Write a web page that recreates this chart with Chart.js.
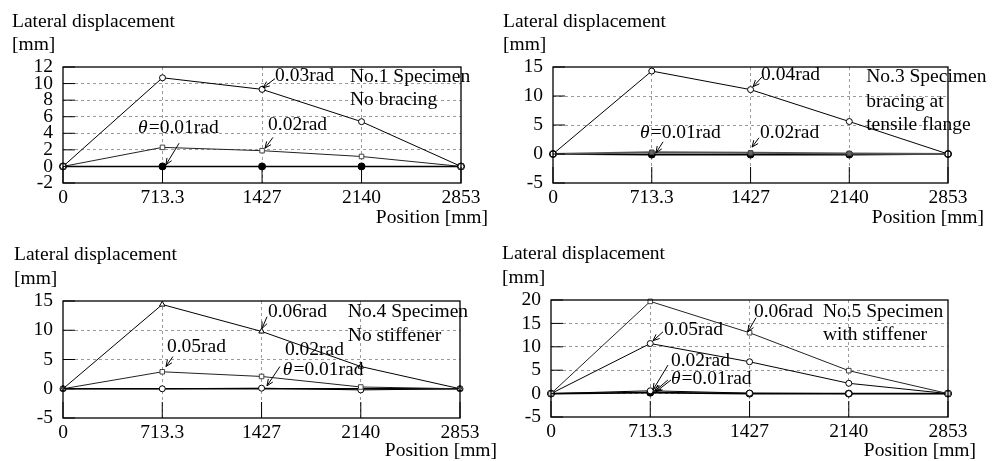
<!DOCTYPE html>
<html>
<head>
<meta charset="utf-8">
<title>Lateral displacement distribution</title>
<script src="https://cdn.jsdelivr.net/npm/chart.js@4.4.1/dist/chart.umd.min.js"></script>
<style>
  body { margin:0; background:#fff; width:992px; height:461px; overflow:hidden; position:relative;
         font-family:"Liberation Serif","Times New Roman",serif; }
  .panel { position:absolute; width:496px; height:230px; }
  .lbl { position:absolute; font-size:19.5px; line-height:1; color:#000; white-space:nowrap; }
</style>
</head>
<body>
<div class="panel" style="left:0;top:0"><canvas id="c1" width="496" height="230"></canvas></div>
<div class="panel" style="left:496px;top:0"><canvas id="c2" width="496" height="230"></canvas></div>
<div class="panel" style="left:0;top:230px"><canvas id="c3" width="496" height="230"></canvas></div>
<div class="panel" style="left:496px;top:230px"><canvas id="c4" width="496" height="230"></canvas></div>

<div class="lbl" style="left:12px;top:11px">Lateral displacement</div>
<div class="lbl" style="left:12px;top:34px">[mm]</div>
<div class="lbl" style="right:504px;top:207px">Position [mm]</div>

<div class="lbl" style="left:503px;top:11px">Lateral displacement</div>
<div class="lbl" style="left:503px;top:34px">[mm]</div>
<div class="lbl" style="right:8px;top:207px">Position [mm]</div>

<div class="lbl" style="left:14px;top:244px">Lateral displacement</div>
<div class="lbl" style="left:14px;top:268px">[mm]</div>
<div class="lbl" style="right:495px;top:440px">Position [mm]</div>

<div class="lbl" style="left:502px;top:243px">Lateral displacement</div>
<div class="lbl" style="left:502px;top:267px">[mm]</div>
<div class="lbl" style="right:16px;top:440px">Position [mm]</div>

<script>
// measuring positions along the beam [mm]
const positions = [0, 713.3, 1427, 2140, 2853];
const xTickLabels = ['0', '713.3', '1427', '2140', '2853'];

// No.1 specimen, no bracing
const no1_r001 = [0, 0, 0, 0, 0];
const no1_r002 = [0, 2.3, 1.9, 1.2, 0];
const no1_r003 = [0, 10.7, 9.3, 5.4, 0];
const no1_yTicks = [-2, 0, 2, 4, 6, 8, 10, 12];

// No.3 specimen, bracing at tensile flange
const no3_r001 = [0, -0.1, -0.1, -0.1, 0];
const no3_r002 = [0, 0.3, 0.2, 0.1, 0];
const no3_r004 = [0, 14.3, 11.1, 5.6, 0];
const no3_yTicks = [-5, 0, 5, 10, 15];

// No.4 specimen, no stiffener
const no4_r001 = [0, 0, 0, 0, 0];
const no4_r002 = [0, 0, 0.1, -0.2, 0];
const no4_r005 = [0, 2.9, 2.1, 0.3, 0];
const no4_r006 = [0, 14.4, 9.8, 3.8, 0];
const no4_yTicks = [-5, 0, 5, 10, 15];

// No.5 specimen, with stiffener
const no5_r001 = [0, 0.2, 0, 0, 0];
const no5_r002 = [0, 0.6, 0.1, 0, 0];
const no5_r005 = [0, 10.7, 6.8, 2.2, 0];
const no5_r006 = [0, 19.7, 13.0, 4.9, 0];
const no5_yTicks = [-5, 0, 5, 10, 15, 20];

const FONT = '"Liberation Serif", "Times New Roman", serif';
const FSIZE = 19.5;

function pts(vals){ return vals.map((v,i)=>({x: positions[i], y: v})); }

// marker presets
const openCircle = {pointStyle:'circle', pointRadius:3, pointBackgroundColor:'#fff', pointBorderColor:'#000', borderColor:'#000', borderWidth:1};
const fillCircle = {pointStyle:'circle', pointRadius:3.5, pointBackgroundColor:'#000', pointBorderColor:'#000', borderColor:'#000', borderWidth:1.6};
const openSquare = {pointStyle:'rect', pointRadius:3.2, pointBackgroundColor:'#fff', pointBorderColor:'#444', borderColor:'#222', borderWidth:1};
const greySquare = {pointStyle:'rect', pointRadius:3.2, pointBackgroundColor:'#666', pointBorderColor:'#444', borderColor:'#555', borderWidth:2};
const openTri = {pointStyle:'triangle', pointRadius:3.2, pointBackgroundColor:'#fff', pointBorderColor:'#000', borderColor:'#000', borderWidth:1};

function ds(label, vals, style){
  return Object.assign({label, data: pts(vals), clip:false, tension:0, fill:false, pointBorderWidth:1}, style);
}

// frame, inward ticks and annotations
const framePlugin = {
  id: 'frame',
  afterDraw(chart){
    const {ctx, chartArea:a, scales} = chart;
    const o = chart.options.plugins.frame;
    ctx.save();
    ctx.strokeStyle = '#000';
    ctx.lineWidth = 1.3;
    ctx.strokeRect(a.left, a.top, a.right - a.left, a.bottom - a.top);
    ctx.lineWidth = 1;
    ctx.beginPath();
    scales.x.ticks.forEach(t=>{
      const px = scales.x.getPixelForValue(t.value);
      ctx.moveTo(px, a.bottom); ctx.lineTo(px, a.bottom - 16);
    });
    scales.y.ticks.forEach(t=>{
      const py = scales.y.getPixelForValue(t.value);
      ctx.moveTo(a.left, py); ctx.lineTo(a.left + 12, py);
    });
    ctx.stroke();

    ctx.fillStyle = '#000';
    ctx.textBaseline = 'middle';
    (o.notes || []).forEach(n=>{
      let px = scales.x.getPixelForValue(n.x);
      const py = scales.y.getPixelForValue(n.y);
      if (n.theta){
        ctx.font = 'italic ' + FSIZE + 'px ' + FONT;
        ctx.fillText('\u03b8', px, py);
        px += ctx.measureText('\u03b8').width + 1;
      }
      ctx.font = FSIZE + 'px ' + FONT;
      ctx.fillText(n.text, px, py);
    });
    (o.arrows || []).forEach(r=>{
      const x1 = scales.x.getPixelForValue(r[0]), y1 = scales.y.getPixelForValue(r[1]);
      const x2 = scales.x.getPixelForValue(r[2]), y2 = scales.y.getPixelForValue(r[3]);
      const ang = Math.atan2(y2 - y1, x2 - x1);
      ctx.beginPath();
      ctx.moveTo(x1, y1); ctx.lineTo(x2, y2);
      ctx.moveTo(x2 - 7*Math.cos(ang - 0.4), y2 - 7*Math.sin(ang - 0.4));
      ctx.lineTo(x2, y2);
      ctx.lineTo(x2 - 7*Math.cos(ang + 0.4), y2 - 7*Math.sin(ang + 0.4));
      ctx.stroke();
    });
    ctx.restore();
  }
};

function makePanel(id, datasets, yTicks, box, notes, arrows){
  const grid = {lineWidth:1, drawTicks:false};
  new Chart(document.getElementById(id), {
    type: 'line',
    data: { datasets },
    options: {
      responsive: false,
      animation: false,
      layout: { padding: { left:0, top: box.top, right: 496 - box.right, bottom:0 } },
      plugins: {
        legend: { display:false },
        tooltip: { enabled:false },
        frame: { notes, arrows }
      },
      scales: {
        x: {
          type: 'linear',
          min: positions[0], max: positions[positions.length - 1],
          afterBuildTicks: s => { s.ticks = positions.map(v=>({value:v})); },
          afterFit: s => { s.height = 230 - box.bottom; },
          ticks: {
            color:'#000', padding:3, maxRotation:0, autoSkip:false,
            font:{family:FONT, size:FSIZE},
            callback: (v)=> { const i = positions.indexOf(v); return i >= 0 ? xTickLabels[i] : ''; }
          },
          grid: Object.assign({}, grid, {
            color: c => (c.tick && (c.tick.value === positions[0] || c.tick.value === positions[positions.length-1])) ? 'rgba(0,0,0,0)' : '#9a9a9a'
          }),
          border: { display:false, dash:[3,3] }
        },
        y: {
          type: 'linear',
          min: yTicks[0], max: yTicks[yTicks.length - 1],
          afterBuildTicks: s => { s.ticks = yTicks.map(v=>({value:v})); },
          afterFit: s => { s.width = box.left; },
          ticks: { color:'#000', padding:10, autoSkip:false, font:{family:FONT, size:FSIZE} },
          grid: Object.assign({}, grid, {
            color: c => (c.tick && (c.tick.value === yTicks[0] || c.tick.value === yTicks[yTicks.length-1])) ? 'rgba(0,0,0,0)' : '#9a9a9a'
          }),
          border: { display:false, dash:[3,3] }
        }
      }
    },
    plugins: [framePlugin]
  });
}

makePanel('c1', [
  ds('0.03rad', no1_r003, openCircle),
  ds('0.02rad', no1_r002, openSquare),
  ds('0.01rad', no1_r001, fillCircle)
], no1_yTicks, {left:63, right:461, top:67, bottom:183}, [
  {text:'0.03rad', x:1520, y:10.9},
  {text:'=0.01rad', x:538, y:4.6, theta:true},
  {text:'0.02rad', x:1470, y:5.0},
  {text:'No.1 Specimen', x:2057, y:10.8},
  {text:'No bracing', x:2057, y:8.0}
], [
  [1520, 10.6, 1434, 9.5],
  [832, 2.8, 738, 0.2],
  [1505, 3.5, 1448, 2.2]
]);

makePanel('c2', [
  ds('0.04rad', no3_r004, openCircle),
  ds('0.02rad', no3_r002, greySquare),
  ds('0.01rad', no3_r001, fillCircle)
], no3_yTicks, {left:57, right:452, top:67, bottom:183}, [
  {text:'0.04rad', x:1503, y:13.6},
  {text:'=0.01rad', x:629, y:3.6, theta:true},
  {text:'0.02rad', x:1496, y:3.6},
  {text:'No.3 Specimen', x:2262, y:13.3},
  {text:'bracing at', x:2262, y:9.0},
  {text:'tensile flange', x:2262, y:5.0}
], [
  [1510, 13.3, 1445, 11.6],
  [795, 2.1, 744, 0.2],
  [1488, 2.8, 1438, 1.2]
]);

makePanel('c3', [
  ds('0.06rad', no4_r006, openTri),
  ds('0.05rad', no4_r005, openSquare),
  ds('0.02rad', no4_r002, openCircle),
  ds('0.01rad', no4_r001, Object.assign({}, fillCircle, {pointRadius:0}))
], no4_yTicks, {left:63, right:460, top:71, bottom:188}, [
  {text:'0.06rad', x:1473, y:13.2},
  {text:'0.05rad', x:747, y:7.2},
  {text:'0.02rad', x:1595, y:6.7},
  {text:'=0.01rad', x:1580, y:3.2, theta:true},
  {text:'No.4 Specimen', x:2047, y:13.2},
  {text:'No stiffener', x:2047, y:9.1}
], [
  [1466, 12.3, 1430, 10.3],
  [790, 5.5, 740, 3.8],
  [1559, 3.8, 1466, 0.5]
]);

makePanel('c4', [
  ds('0.06rad', no5_r006, openSquare),
  ds('0.05rad', no5_r005, openCircle),
  ds('0.02rad', no5_r002, openCircle),
  ds('0.01rad', no5_r001, fillCircle)
], no5_yTicks, {left:55, right:452, top:70, bottom:187}, [
  {text:'0.06rad', x:1458, y:17.5},
  {text:'0.05rad', x:812, y:13.6},
  {text:'0.02rad', x:862, y:7.0},
  {text:'=0.01rad', x:862, y:3.1, theta:true},
  {text:'No.5 Specimen', x:1954, y:17.5},
  {text:'with stiffener', x:1954, y:12.5}
], [
  [1473, 16.2, 1415, 13.2],
  [805, 13.2, 733, 11.3],
  [841, 6.1, 733, 0.8],
  [862, 2.9, 754, 0.4],
  [840, 2.9, 745, 0.5]
]);
</script>
</body>
</html>
